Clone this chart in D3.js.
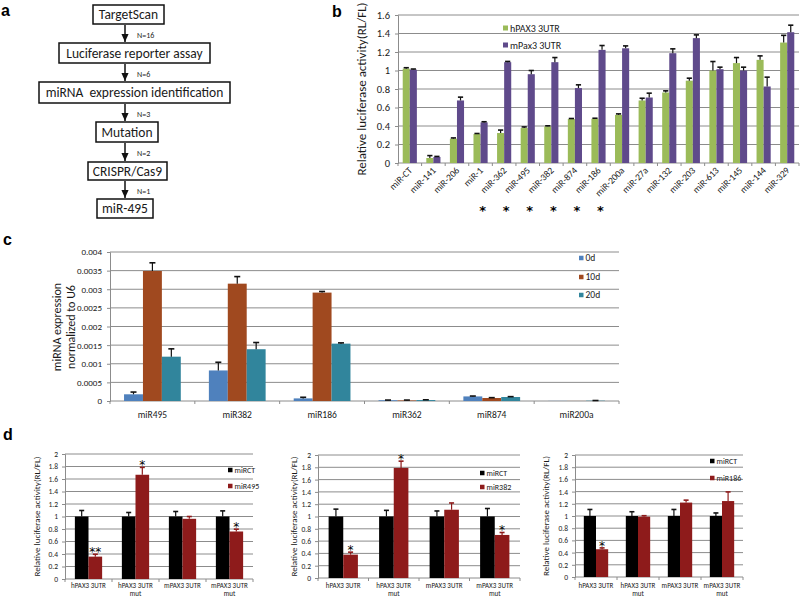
<!DOCTYPE html>
<html lang="en">
<head>
<meta charset="UTF-8">
<script src="https://d3js.org/d3.v7.min.js"></script>
<style>
  body { margin: 0; background: #fff; }
  svg text { font-family: Carlito, Lato, "Liberation Sans", sans-serif; fill: #1a1a1a; }
  svg text.letter { font-family: "Liberation Sans", Arial, sans-serif; font-weight: bold; fill: #000; }
  svg text.star { font-family: "DejaVu Sans", sans-serif; fill: #000; }
</style>
</head>
<body>
<svg id="fig" width="800" height="599"></svg>
<script>
// ---- panel a: screening flow ----
const flowSteps = ["TargetScan", "Luciferase reporter assay", "miRNA  expression identification",
                   "Mutation", "CRISPR/Cas9", "miR-495"];
const flowCounts = ["N=16", "N=6", "N=3", "N=2", "N=1"];

// ---- panel b: luciferase screen ----
const bCategories = ["miR-CT", "miR-141", "miR-206", "miR-1", "miR-362", "miR-495", "miR-382", "miR-874",
                     "miR-186", "miR-200a", "miR-27a", "miR-132", "miR-203", "miR-613", "miR-145", "miR-144", "miR-329"];
const bHuman    = [1.02, 0.054, 0.263, 0.313, 0.324, 0.378, 0.396, 0.475, 0.478, 0.52, 0.676, 0.762, 0.89, 1.0, 1.08, 1.115, 1.302];
const bHumanErr = [0.01, 0.026, 0.008, 0.006, 0.032, 0.012, 0.006, 0.006, 0.006, 0.011, 0.024, 0.018, 0.027, 0.097, 0.06, 0.043, 0.078];
const bMouse    = [1.01, 0.065, 0.676, 0.439, 1.09, 0.96, 1.09, 0.81, 1.223, 1.24, 0.708, 1.187, 1.35, 1.014, 1.0, 0.827, 1.414];
const bMouseErr = [0.006, 0.006, 0.036, 0.007, 0.008, 0.04, 0.05, 0.035, 0.047, 0.026, 0.047, 0.047, 0.035, 0.022, 0.036, 0.101, 0.076];
const bStarred  = ["miR-1", "miR-362", "miR-495", "miR-382", "miR-874", "miR-186"];
const bTicks      = [0, 0.2, 0.4, 0.6, 0.8, 1, 1.2, 1.4, 1.6];
const bTickLabels = ["0", "0.2", "0.4", "0.6", "0.8", "1", "1.2", "1.4", "1.6"];

// ---- panel c: expression time course ----
const cCategories = ["miR495", "miR382", "miR186", "miR362", "miR874", "miR200a"];
const c0d     = [0.00018, 0.00082, 0.00007, 0.00002, 0.000123, 0.000003];
const c0dErr  = [0.00006, 0.00022, 0.00003, 0.000005, 0.00001, 0];
const c10d    = [0.00349, 0.00315, 0.00291, 0.000015, 0.00008, 0.000002];
const c10dErr = [0.00022, 0.00019, 0.00003, 0.00001, 0.00001, 0];
const c20d    = [0.00119, 0.00139, 0.00154, 0.000025, 0.000107, 0.000008];
const c20dErr = [0.00021, 0.00018, 0.00002, 0.000008, 0.00001, 0.000005];
const cTicks      = [0, 0.0005, 0.001, 0.0015, 0.002, 0.0025, 0.003, 0.0035, 0.004];
const cTickLabels = ["0", "0.0005", "0.001", "0.0015", "0.002", "0.0025", "0.003", "0.0035", "0.004"];

// ---- panel d: mutant 3'UTR reporters ----
const dCategories = ["hPAX3 3UTR", "hPAX3 3UTR mut", "mPAX3 3UTR", "mPAX3 3UTR mut"];
const dCtrlName = "miRCT";
const d495Ctrl = [1, 1, 1, 1],            d495CtrlErr = [0.096, 0.064, 0.08, 0.09];
const d495     = [0.358, 1.668, 0.963, 0.76], d495Err = [0.038, 0.118, 0.037, 0.037];
const d495Star = ["**", "*", "", "*"];
const d382Ctrl = [1, 1, 1, 1],            d382CtrlErr = [0.12, 0.1, 0.09, 0.13];
const d382     = [0.38, 1.79, 1.11, 0.7],  d382Err = [0.04, 0.11, 0.11, 0.04];
const d382Star = ["*", "*", "", "*"];
const d186Ctrl = [1, 1, 1, 1],            d186CtrlErr = [0.107, 0.07, 0.107, 0.05];
const d186     = [0.455, 0.99, 1.22, 1.245], d186Err = [0.022, 0.015, 0.04, 0.15];
const d186Star = ["*", "", "", ""];
const dTicks      = [0, 0.2, 0.4, 0.6, 0.8, 1, 1.2, 1.4, 1.6, 1.8, 2];
const dTickLabels = ["0", "0.2", "0.4", "0.6", "0.8", "1", "1.2", "1.4", "1.6", "1.8", "2"];

const GRID = "#8c8c8c";
const svg = d3.select("#fig");

// panel letters
[["a", 1, 16], ["b", 332, 17], ["c", 3, 245], ["d", 3, 440]].forEach(([t, x, y]) =>
  svg.append("text").attr("class", "letter").attr("x", x).attr("y", y).attr("font-size", 16).text(t));

// ================= panel a =================
const boxes = [ {x: 93, y: 5, w: 71, h: 19}, {x: 59, y: 43, w: 151, h: 20}, {x: 39, y: 82, w: 191, h: 21},
                {x: 96, y: 122, w: 62, h: 20}, {x: 88, y: 162, w: 79, h: 18}, {x: 97, y: 199, w: 56, h: 19} ];
const ga = svg.append("g");
ga.append("defs").append("marker").attr("id", "arr").attr("viewBox", "0 0 10 10")
  .attr("refX", 9).attr("refY", 5).attr("markerWidth", 6).attr("markerHeight", 6)
  .attr("orient", "auto").append("path").attr("d", "M0,1 L9,5 L0,9 Z").attr("fill", "#111");
flowSteps.forEach((s, i) => {
  const b = boxes[i];
  ga.append("rect").attr("x", b.x).attr("y", b.y).attr("width", b.w).attr("height", b.h)
    .attr("fill", "#fff").attr("stroke", "#111").attr("stroke-width", 1.5);
  const t = ga.append("text").attr("x", b.x + b.w / 2).attr("y", b.y + b.h / 2 + 4.5)
    .attr("text-anchor", "middle").attr("font-size", 13.5).style("white-space", "pre").text(s);
  const tw = t.node().getComputedTextLength();
  if (tw > b.w - 7) t.attr("textLength", b.w - 7).attr("lengthAdjust", "spacingAndGlyphs");
  if (i < flowCounts.length) {
    const nb = boxes[i + 1];
    ga.append("line").attr("x1", 125).attr("x2", 125).attr("y1", b.y + b.h + 1).attr("y2", nb.y - 1)
      .attr("stroke", "#111").attr("stroke-width", 1.5).attr("marker-end", "url(#arr)");
    ga.append("text").attr("x", 137).attr("y", (b.y + b.h + nb.y) / 2 + 4)
      .attr("font-size", 8).text(flowCounts[i]);
  }
});

// ================= generic grouped bar panel =================
function barPanel(o) {
  const g = svg.append("g");
  const x = d3.scaleBand().domain(o.categories).range([o.left, o.right]);
  const y = d3.scaleLinear().domain([o.ticks[0], o.ticks[o.ticks.length - 1]]).range([o.bottom, o.top]);
  const bw = x.bandwidth() * o.barFrac;
  const off = (x.bandwidth() - bw * o.series.length) / 2;

  g.selectAll(".grid").data(o.ticks.slice(1)).join("line")
    .attr("x1", o.left).attr("x2", o.right).attr("y1", d => y(d)).attr("y2", d => y(d))
    .attr("stroke", GRID).attr("stroke-width", 1);

  const ya = g.append("g").attr("transform", `translate(${o.left},0)`)
    .call(d3.axisLeft(y).tickValues(o.ticks).tickFormat((d, i) => o.tickLabels[i]).tickSize(3).tickPadding(o.pad))
    .attr("font-size", o.tickFont);
  ya.select(".domain").attr("stroke", GRID);
  ya.selectAll(".tick line").attr("stroke", GRID);

  // category axis with ticks on band edges
  g.append("line").attr("x1", o.left).attr("x2", o.right).attr("y1", y(0)).attr("y2", y(0)).attr("stroke", GRID);
  g.selectAll(".xt").data(d3.range(o.categories.length + 1)).join("line")
    .attr("x1", i => o.left + i * x.step()).attr("x2", i => o.left + i * x.step())
    .attr("y1", y(0)).attr("y2", y(0) + 3).attr("stroke", GRID);

  o.series.forEach((s, k) => {
    const rows = o.categories.map((c, i) => ({c, v: s.values[i], e: s.errors[i], s: s.stars ? s.stars[i] : ""}));
    const bx = d => x(d.c) + off + k * bw;
    g.append("g").selectAll("rect").data(rows).join("rect")
      .attr("x", bx).attr("width", bw)
      .attr("y", d => y(d.v)).attr("height", d => y(0) - y(d.v)).attr("fill", s.color);
    const eg = g.append("g").attr("stroke", s.errColor || "#111").attr("stroke-width", 1.2);
    eg.selectAll(".v").data(rows.filter(d => d.e > 0)).join("line")
      .attr("x1", d => bx(d) + bw / 2).attr("x2", d => bx(d) + bw / 2)
      .attr("y1", d => y(d.v)).attr("y2", d => y(d.v + d.e));
    eg.selectAll(".c").data(rows.filter(d => d.e > 0)).join("line")
      .attr("x1", d => bx(d) + bw / 2 - o.cap).attr("x2", d => bx(d) + bw / 2 + o.cap)
      .attr("y1", d => y(d.v + d.e)).attr("y2", d => y(d.v + d.e)).attr("stroke-width", 1.6);
    g.append("g").selectAll("text").data(rows.filter(d => d.s)).join("text")
      .attr("class", "star")
      .attr("x", d => bx(d) + bw / 2).attr("y", d => y(d.v + d.e) + 2)
      .attr("text-anchor", "middle").attr("font-size", 12).text(d => d.s);
  });

  g.append("text").attr("transform", `translate(${o.titleX},${(o.top + o.bottom) / 2}) rotate(-90)`)
    .attr("text-anchor", "middle").attr("font-size", o.titleFont).text(o.title);

  o.legend.forEach((l, k) => {
    g.append("rect").attr("x", l.x).attr("y", l.y - o.legSq / 2).attr("width", o.legSq).attr("height", o.legSq)
      .attr("fill", o.series[k].color);
    g.append("text").attr("x", l.x + o.legSq + 2).attr("y", l.y + o.legFont * 0.35)
      .attr("font-size", o.legFont).text(l.label);
  });
  return {g, x, y};
}

// ================= panel b =================
const pb = barPanel({
  categories: bCategories, left: 398, right: 799, top: 15, bottom: 163,
  ticks: bTicks, tickLabels: bTickLabels, tickFont: 10.5, pad: 5, barFrac: 0.3, cap: 2.6,
  series: [{values: bHuman, errors: bHumanErr, color: "#9bbb59"},
           {values: bMouse, errors: bMouseErr, color: "#5f4a8b"}],
  title: "Relative luciferase activity(RL/FL)", titleX: 366, titleFont: 13,
  legend: [{x: 503, y: 28, label: "hPAX3 3UTR"}, {x: 503, y: 45, label: "mPax3 3UTR"}],
  legSq: 5, legFont: 10
});
pb.g.append("g").selectAll("text").data(bCategories).join("text")
  .attr("transform", d => `translate(${pb.x(d) + pb.x.bandwidth() / 2 + 3},${171}) rotate(-45)`)
  .attr("text-anchor", "end").attr("font-size", 9.5).text(d => d);
pb.g.append("g").selectAll("text.star").data(bStarred).join("text")
  .attr("class", "star")
  .attr("x", d => pb.x(d) + pb.x.bandwidth() / 2 + 2).attr("y", 215)
  .attr("text-anchor", "middle").attr("font-size", 13).attr("font-weight", "bold").text("*");

// ================= panel c =================
const pc = barPanel({
  categories: cCategories, left: 110, right: 619, top: 252, bottom: 401,
  ticks: cTicks, tickLabels: cTickLabels, tickFont: 9, pad: 5, barFrac: 0.223, cap: 3,
  series: [{values: c0d, errors: c0dErr, color: "#4f81bd"},
           {values: c10d, errors: c10dErr, color: "#a0491f"},
           {values: c20d, errors: c20dErr, color: "#31859c"}],
  title: "", titleX: 0, titleFont: 11,
  legend: [{x: 579, y: 258, label: "0d"}, {x: 579, y: 277, label: "10d"}, {x: 579, y: 295, label: "20d"}],
  legSq: 4.5, legFont: 9.5
});
pc.g.append("g").selectAll("text").data(cCategories).join("text")
  .attr("x", d => pc.x(d) + pc.x.bandwidth() / 2).attr("y", 418)
  .attr("text-anchor", "middle").attr("font-size", 9.5).text(d => d);
pc.g.append("text").attr("transform", "translate(0,327) rotate(-90)").attr("text-anchor", "middle")
  .attr("font-size", 12)
  .selectAll("tspan").data(["miRNA expression", "normalized to U6"]).join("tspan")
  .attr("x", 0).attr("y", (d, i) => 61 + i * 14).text(d => d);

// ================= panel d =================
const dSets = [
  {mir: "miR495", ctrl: d495Ctrl, ctrlErr: d495CtrlErr, vals: d495, err: d495Err, stars: d495Star,
   left: 65, right: 253, top: 454, bottom: 579, titleX: 40, leg: [228, 470, 486]},
  {mir: "miR382", ctrl: d382Ctrl, ctrlErr: d382CtrlErr, vals: d382, err: d382Err, stars: d382Star,
   left: 318, right: 520, top: 455, bottom: 578, titleX: 297, leg: [480, 473, 487]},
  {mir: "miR186", ctrl: d186Ctrl, ctrlErr: d186CtrlErr, vals: d186, err: d186Err, stars: d186Star,
   left: 575, right: 743, top: 455, bottom: 577, titleX: 549, leg: [710, 461, 478]}
];
dSets.forEach(s => {
  const p = barPanel({
    categories: dCategories, left: s.left, right: s.right, top: s.top, bottom: s.bottom,
    ticks: dTicks, tickLabels: dTickLabels, tickFont: 7.5, pad: 4, barFrac: 0.29, cap: 2.5,
    series: [{values: s.ctrl, errors: s.ctrlErr, color: "#000"},
             {values: s.vals, errors: s.err, color: "#8e1b1b", errColor: "#8e1b1b", stars: s.stars}],
    title: "Relative luciferase activity(RL/FL)", titleX: s.titleX, titleFont: 9,
    legend: [{x: s.leg[0], y: s.leg[1], label: dCtrlName}, {x: s.leg[0], y: s.leg[2], label: s.mir}],
    legSq: 4.5, legFont: 8
  });
  p.g.append("g").selectAll("text").data(dCategories).join("text")
    .attr("text-anchor", "middle").attr("font-size", 7)
    .each(function(d) {
      const cx = p.x(d) + p.x.bandwidth() / 2;
      const parts = d.endsWith(" mut") ? [d.slice(0, -4), "mut"] : [d];
      d3.select(this).selectAll("tspan").data(parts).join("tspan")
        .attr("x", cx).attr("y", (t, i) => 588 + i * 7.5).text(t => t);
    });
});
</script>
</body>
</html>
